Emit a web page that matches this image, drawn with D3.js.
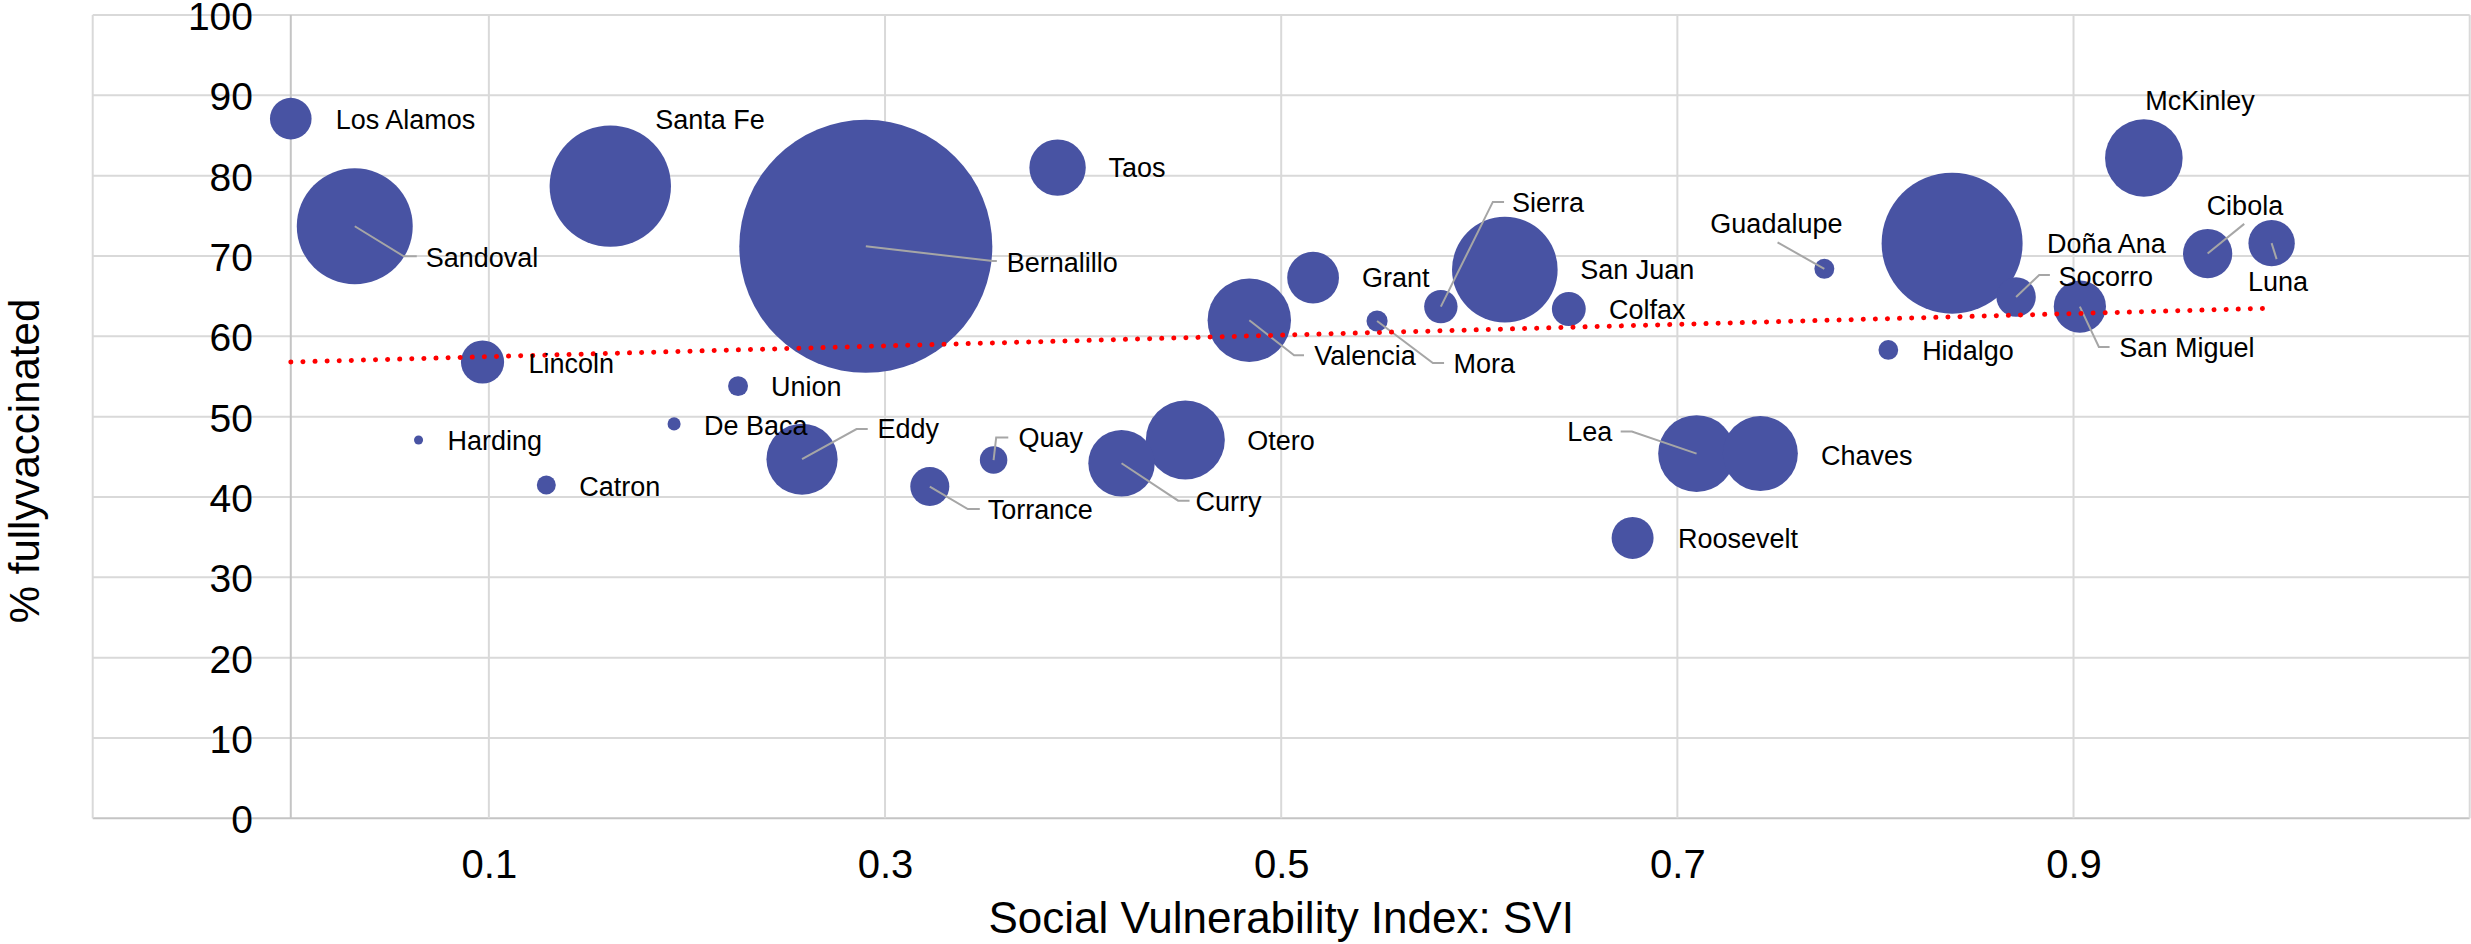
<!DOCTYPE html>
<html>
<head>
<meta charset="utf-8">
<script src="https://cdn.jsdelivr.net/npm/d3@7"></script>
<style>
  body { margin: 0; background: #fff; }
  text { font-family: "Liberation Sans", Arial, sans-serif; fill: #000; }
</style>
</head>
<body>
<script>
// 县名、SVI、完全接种率(%)、人口(千人，决定气泡大小)
let counties = ['Los Alamos', 'Sandoval', 'Harding', 'Lincoln', 'Catron', 'Santa Fe', 'De Baca', 'Union',
  'Eddy', 'Bernalillo', 'Torrance', 'Quay', 'Taos', 'Curry', 'Otero', 'Valencia', 'Grant', 'Mora', 'Sierra',
  'San Juan', 'Colfax', 'Roosevelt', 'Lea', 'Chaves', 'Guadalupe', 'Hidalgo', 'Doña Ana', 'Socorro',
  'San Miguel', 'McKinley', 'Cibola', 'Luna']
let svi = [0, 0.0323, 0.0645, 0.0968, 0.1290, 0.1613, 0.1935, 0.2258, 0.2581, 0.2903, 0.3226, 0.3548,
  0.3871, 0.4194, 0.4516, 0.4839, 0.5161, 0.5484, 0.5806, 0.6129, 0.6452, 0.6774, 0.7097, 0.7419, 0.7742,
  0.8065, 0.8387, 0.8710, 0.9032, 0.9355, 0.9677, 1.0]
let fullyVaccinated = [87.1, 73.7, 47.1, 56.8, 41.5, 78.7, 49.1, 53.8, 44.7, 71.2, 41.3, 44.6, 81.0, 44.2,
  47.1, 62.0, 67.3, 61.9, 63.7, 68.3, 63.4, 34.9, 45.4, 45.4, 68.4, 58.3, 71.6, 64.9, 63.7, 82.2, 70.3, 71.6]
let population = [18.3, 142, 0.86, 19.7, 3.8, 155.6, 1.8, 4.2, 53.5, 676, 16.1, 8.0, 33.6, 46.6, 65.9, 73.5,
  28.3, 4.7, 11.8, 117.8, 12.1, 18.6, 62.3, 59.4, 4.2, 4.1, 210, 16.4, 28.8, 63.6, 25.6, 22.7]

// 坐标轴刻度
let xTicks = [0.1, 0.3, 0.5, 0.7, 0.9]
let xGrid = [-0.1, 0.1, 0.3, 0.5, 0.7, 0.9, 1.1]
let yTicks = [0, 10, 20, 30, 40, 50, 60, 70, 80, 90, 100]

// 趋势线(线性)两端
let trendSvi = [0, 1.0]
let trendPct = [56.8, 63.5]

// 标签相对气泡中心的偏移 [dx, dy]，以及引导线折点
let labelLayout = {
  'Los Alamos': [45, 1], 'Sandoval': [71, 31, [[49, 30], [62, 30]]], 'Santa Fe': [45, -67],
  'Lincoln': [46, 1.5], 'Harding': [29, 0], 'Catron': [33, 1], 'De Baca': [30, 1], 'Union': [33, 0],
  'Bernalillo': [141, 15.5, [[127, 14.7], [131, 14.7]]], 'Taos': [51, 0],
  'Eddy': [75.5, -30.5, [[54.5, -30.2], [65.7, -30.2]]], 'Quay': [25, -22.6, [[2.6, -22.6], [14.7, -22.6]]],
  'Otero': [62, 0], 'Curry': [74, 38, [[56.6, 37.4], [68, 37.4]]],
  'Torrance': [58, 22.6, [[38, 22.5], [50, 22.5]]], 'Valencia': [65, 35, [[44.8, 35], [54.7, 35]]],
  'Grant': [49, 0], 'Mora': [76.4, 42.4, [[55.8, 42], [67, 42]]],
  'Sierra': [71.2, -104, [[52, -104.7], [63.2, -104.7]]], 'San Juan': [75.3, 0], 'Colfax': [40.2, 0.7],
  'Guadalupe': [-114, -46, [[-46.8, -26.5]]], 'Hidalgo': [33.8, 0],
  'Lea': [-129.4, -22, [[-64.7, -22.1], [-75.9, -22.1]]], 'Chaves': [60.7, 1.5], 'Roosevelt': [45.3, 0.7],
  'Doña Ana': [95, 0], 'Socorro': [42.4, -20.5, [[23.1, -22], [33.8, -22]]],
  'San Miguel': [39.5, 41, [[19, 40.4], [29.7, 40.4]]], 'McKinley': [1.5, -58],
  'Cibola': [-1, -48.7, [[36.6, -29.7]]], 'Luna': [-23.6, 38.4, [[5, 16]]]
}

let data = counties.map(function (d, i) {
  return { name: d, svi: svi[i], pct: fullyVaccinated[i], pop: population[i] }
})

let width = 2471
let height = 944

let xScale = d3.scaleLinear().domain([-0.1, 1.1]).range([92.7, 2469.7])
let yScale = d3.scaleLinear().domain([0, 100]).range([818.3, 15])
let rScale = d3.scaleSqrt().domain([0, 676]).range([0, 126.5])

let svg = d3.select('body')
  .append('svg')
  .attr('width', width)
  .attr('height', height)

// 网格线
svg.append('g')
  .selectAll('line')
  .data(yTicks)
  .enter().append('line')
  .attr('x1', xScale(-0.1)).attr('x2', xScale(1.1))
  .attr('y1', function (d) { return yScale(d) }).attr('y2', function (d) { return yScale(d) })
  .attr('stroke', function (d) { return d === 0 ? '#c4c4c4' : '#d9d9d9' })
  .attr('stroke-width', 2)
svg.append('g')
  .selectAll('line')
  .data(xGrid)
  .enter().append('line')
  .attr('x1', function (d) { return xScale(d) }).attr('x2', function (d) { return xScale(d) })
  .attr('y1', yScale(0)).attr('y2', yScale(100))
  .attr('stroke', '#d9d9d9')
  .attr('stroke-width', 2)
// x=0 处的纵轴线
svg.append('line')
  .attr('x1', xScale(0)).attr('x2', xScale(0))
  .attr('y1', yScale(0)).attr('y2', yScale(100))
  .attr('stroke', '#c4c4c4')
  .attr('stroke-width', 2)

// 坐标轴文字
let yAxis = svg.append('g')
  .attr('transform', 'translate(256,0)')
  .call(d3.axisLeft(yScale).tickValues(yTicks).tickSize(0).tickPadding(3))
yAxis.select('.domain').remove()
yAxis.selectAll('text')
  .attr('font-size', '39px')
  .attr('font-family', '"Liberation Sans", Arial, sans-serif')
  .attr('dy', '0.37em')

let xAxis = svg.append('g')
  .attr('transform', 'translate(0,' + yScale(0) + ')')
  .call(d3.axisBottom(xScale).tickValues(xTicks).tickSize(0).tickPadding(31).tickFormat(d3.format('.1f')))
xAxis.select('.domain').remove()
xAxis.selectAll('text')
  .attr('font-size', '40px')
  .attr('font-family', '"Liberation Sans", Arial, sans-serif')

// 气泡
let sorted = data.slice().sort(function (a, b) { return b.pop - a.pop })
svg.append('g')
  .selectAll('circle')
  .data(sorted)
  .enter().append('circle')
  .attr('cx', function (d) { return xScale(d.svi) })
  .attr('cy', function (d) { return yScale(d.pct) })
  .attr('r', function (d) { return rScale(d.pop) })
  .attr('fill', '#4853a3')

// 引导线
svg.append('g')
  .selectAll('path')
  .data(data.filter(function (d) { return labelLayout[d.name][2] }))
  .enter().append('path')
  .attr('d', function (d) {
    let cx = xScale(d.svi), cy = yScale(d.pct)
    let pts = [[cx, cy]].concat(labelLayout[d.name][2].map(function (p) { return [cx + p[0], cy + p[1]] }))
    return d3.line()(pts)
  })
  .attr('fill', 'none')
  .attr('stroke', '#a6a6a6')
  .attr('stroke-width', 2)

// 趋势线(红色圆点)
svg.append('path')
  .datum(trendSvi.map(function (d, i) { return [d, trendPct[i]] }))
  .attr('d', d3.line().x(function (d) { return xScale(d[0]) }).y(function (d) { return yScale(d[1]) }))
  .attr('fill', 'none')
  .attr('stroke', '#ff0000')
  .attr('stroke-width', 5)
  .attr('stroke-linecap', 'round')
  .attr('stroke-dasharray', '0.1 12')

// 数据标签
svg.append('g')
  .selectAll('text')
  .data(data)
  .enter().append('text')
  .attr('x', function (d) { return xScale(d.svi) + labelLayout[d.name][0] })
  .attr('y', function (d) { return yScale(d.pct) + labelLayout[d.name][1] })
  .attr('dy', '0.36em')
  .attr('font-size', '27px')
  .text(function (d) { return d.name })

// 轴标题
svg.append('text')
  .attr('x', (xScale(-0.1) + xScale(1.1)) / 2)
  .attr('y', 933)
  .attr('text-anchor', 'middle')
  .attr('font-size', '44px')
  .text('Social Vulnerability Index: SVI')
svg.append('text')
  .attr('transform', 'translate(39,461) rotate(-90)')
  .attr('text-anchor', 'middle')
  .attr('font-size', '42px')
  .text('% fullyvaccinated')
</script>
</body>
</html>
